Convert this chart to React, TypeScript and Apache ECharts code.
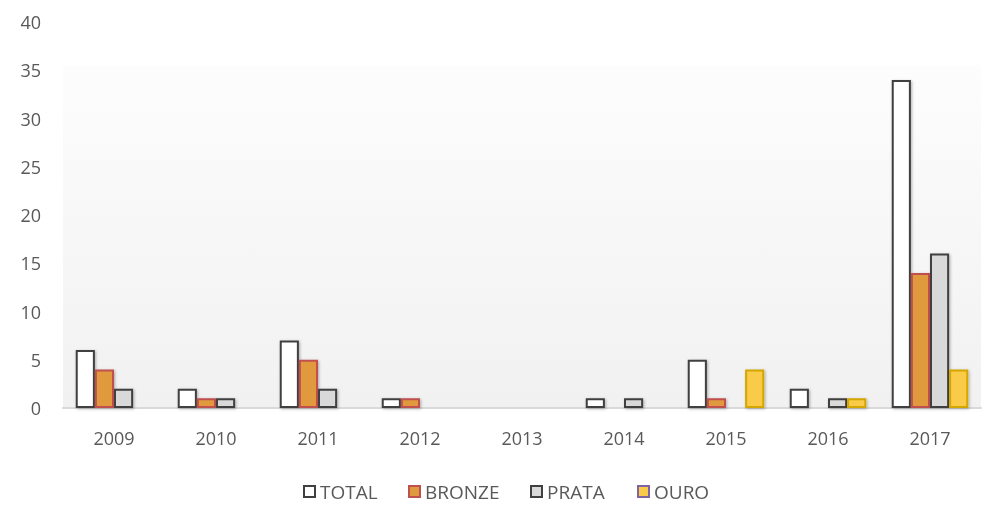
import React, { useEffect, useRef } from "react";
import * as echarts from "echarts";

const categories = ["2009", "2010", "2011", "2012", "2013", "2014", "2015", "2016", "2017"];
const total = [6, 2, 7, 1, 0, 1, 5, 2, 34];
const bronze = [4, 1, 5, 1, 0, 0, 1, 0, 14];
const prata = [2, 1, 2, 0, 0, 1, 0, 1, 16];
const ouro = [0, 0, 0, 0, 0, 0, 4, 1, 4];
const seriesNames = ["TOTAL", "BRONZE", "PRATA", "OURO"];

const FONT = "'Open Sans', 'Noto Sans', sans-serif";
const TXT = "#595959";

const fills = ["#ffffff", "#E09A3E", "#D9D9D9", "#F9CB48"];
const borders = ["#404040", "#C0504D", "#404040", "#D4A600"];
const legendBorders = ["#404040", "#C0504D", "#404040", "#8064A2"];
const legendLeft = [303, 408, 530, 637];

const shadow = {
  shadowBlur: 3,
  shadowColor: "rgba(0,0,0,0.3)",
  shadowOffsetX: 1,
  shadowOffsetY: 1,
};
const noShadow = { shadowBlur: 0, shadowOffsetX: 0, shadowOffsetY: 0, shadowColor: "transparent" };

function mk(i: number, data: number[]) {
  return {
    name: seriesNames[i],
    type: "bar",
    data: data.map((v) => (v === 0 ? null : v)),
    barGap: "0%",
    barCategoryGap: "25%",
    itemStyle: { color: fills[i], borderColor: borders[i], borderWidth: 2, ...shadow },
  };
}

export default function App() {
  const ref = useRef<HTMLDivElement>(null);
  useEffect(() => {
    const chart = echarts.init(ref.current!, null, { renderer: "svg" });
    chart.setOption({
      animation: false,
      textStyle: { fontFamily: FONT },
      graphic: [
        {
          type: "rect",
          z: -10,
          silent: true,
          shape: { x: 63, y: 65, width: 918, height: 343 },
          style: {
            fill: new echarts.graphic.LinearGradient(0, 0, 0, 1, [
              { offset: 0, color: "#fdfdfd" },
              { offset: 1, color: "#f1f1f1" },
            ]),
          },
        },
      ],
      grid: { left: 63, right: 12, top: 22, bottom: 113, containLabel: false },
      legend: seriesNames.map((n, i) => ({
        left: legendLeft[i],
        top: 482,
        padding: 0,
        icon: "rect",
        itemWidth: 11,
        itemHeight: 11,
        textStyle: { color: TXT, fontSize: 19, fontFamily: FONT },
        data: [
          { name: n, itemStyle: { color: fills[i], borderColor: legendBorders[i], borderWidth: 2, ...noShadow } },
        ],
      })),
      xAxis: {
        type: "category",
        data: categories,
        axisLine: { lineStyle: { color: "#d9d9d9", width: 2 } },
        axisTick: { show: false },
        axisLabel: { color: TXT, fontSize: 18, margin: 21, fontFamily: FONT },
      },
      yAxis: {
        type: "value",
        min: 0,
        max: 40,
        interval: 5,
        axisLine: { show: false },
        axisTick: { show: false },
        splitLine: { show: false },
        axisLabel: { color: TXT, fontSize: 18, margin: 22, fontFamily: FONT },
      },
      series: [mk(0, total), mk(1, bronze), mk(2, prata), mk(3, ouro)],
    });
    return () => chart.dispose();
  }, []);
  return (
    <div
      ref={ref}
      style={{ position: "fixed", left: 0, top: 0, width: 993, height: 521 }}
    />
  );
}
